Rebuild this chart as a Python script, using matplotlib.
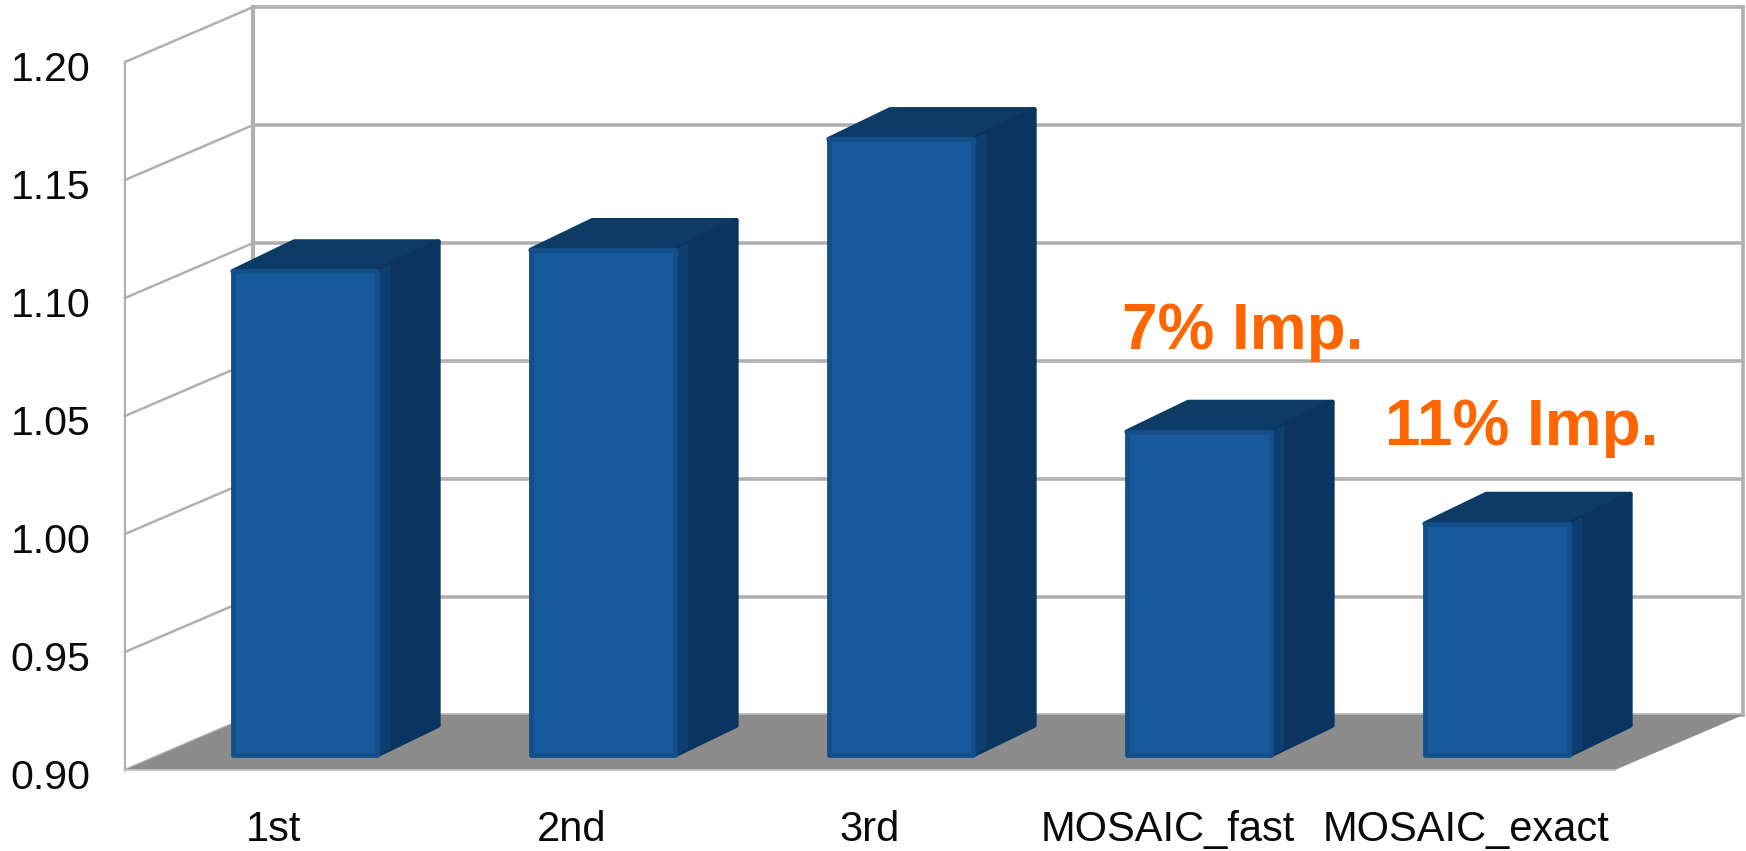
import numpy as np
import matplotlib
matplotlib.use("Agg")
import matplotlib.pyplot as plt
from matplotlib.transforms import ScaledTranslation

plt.rcParams['font.family'] = ['Liberation Sans', 'DejaVu Sans']

categories = ['1st', '2nd', '3rd', 'MOSAIC_fast', 'MOSAIC_exact']
values = [1.105, 1.114, 1.161, 1.037, 0.998]
yticks = [0.90, 0.95, 1.00, 1.05, 1.10, 1.15, 1.20]
notes = ['7% Imp.', '11% Imp.']
note_x = [3.25, 4.187]
note_levels = [1.0785, 1.0377]

GRID = '#b0b0b0'
FLOOR = '#8c8c8c'
FRONT = '#175a9c'
FRONT_EDGE = '#134f8b'
BEVEL = '#0e3f70'
SIDE = '#0b3560'
TOP = '#0e3a66'
ORANGE = '#ff6600'

# how far the back wall sits from the front plane, in data units
DX = 0.43
DY = 0.0233
XMIN, XMAX = -0.5, 4.5
YMIN, YMAX = yticks[0], yticks[-1]
BAR_W = 0.483

fig = plt.figure(figsize=(17.46, 8.51), dpi=100)
ax = fig.add_axes([125 / 1746, 81 / 851, 1490 / 1746, 708 / 851])
ax.set_xlim(XMIN, XMAX)
ax.set_ylim(YMIN, YMAX)
for s in ax.spines.values():
    s.set_visible(False)

# walls and grid
for v in yticks:
    ax.plot([XMIN, XMIN + DX], [v, v + DY], color=GRID, lw=1.8, clip_on=False, zorder=1)
    ax.plot([XMIN + DX, XMAX + DX], [v + DY, v + DY], color=GRID, lw=2.6, clip_on=False, zorder=1)
ax.plot([XMIN, XMIN], [YMIN, YMAX], color=GRID, lw=1.6, clip_on=False, zorder=1)
ax.plot([XMIN + DX, XMIN + DX], [YMIN + DY, YMAX + DY], color=GRID, lw=3, clip_on=False, zorder=1)
ax.plot([XMAX + DX, XMAX + DX], [YMIN + DY, YMAX + DY], color=GRID, lw=2.6, clip_on=False, zorder=1)

# floor
ax.fill([XMIN, XMAX, XMAX + DX, XMIN + DX], [YMIN, YMIN, YMIN + DY, YMIN + DY],
        color=FLOOR, lw=0, clip_on=False, zorder=2)
ax.plot([XMIN, XMAX], [YMIN, YMIN], color='#c4c4c4', lw=1.2, clip_on=False, zorder=2)

# bars, front face a quarter of the way in and half the depth deep
x = np.arange(len(categories))
vals = np.array(values)
centers = x + 0.24 * DX
x0 = centers - BAR_W / 2
x1 = x0 + BAR_W
base = YMIN + 0.27 * DY
tops = vals + 0.27 * DY
bar_dx = 0.48 * DX
bar_dy = 0.54 * DY

for i in range(len(categories)):
    ax.fill([x0[i], x1[i], x1[i] + bar_dx, x0[i] + bar_dx],
            [tops[i], tops[i], tops[i] + bar_dy, tops[i] + bar_dy],
            facecolor=TOP, edgecolor=TOP, lw=3.5, joinstyle='round', clip_on=False, zorder=3)
    ax.fill([x1[i], x1[i] + bar_dx, x1[i] + bar_dx, x1[i]],
            [base, base + bar_dy, tops[i] + bar_dy, tops[i]],
            facecolor=SIDE, edgecolor=SIDE, lw=3.5, joinstyle='round', clip_on=False, zorder=3)
    ax.fill([x1[i], x1[i] + 0.22 * bar_dx, x1[i] + 0.22 * bar_dx, x1[i]],
            [base, base + 0.22 * bar_dy, tops[i] + 0.22 * bar_dy, tops[i]],
            facecolor=BEVEL, lw=0, clip_on=False, zorder=3)

ax.bar(centers, vals - YMIN, width=BAR_W, bottom=base, color=FRONT,
       edgecolor=FRONT_EDGE, linewidth=3.5, joinstyle='round', clip_on=False, zorder=4)

ax.set_xticks(x)
ax.set_xticklabels(categories, fontsize=30, color='#0a0a0a')
ax.set_yticks(yticks)
ax.set_yticklabels([f"{v:.2f}" for v in yticks], fontsize=29.5, color='#0a0a0a')
ax.tick_params(axis='x', length=0, pad=28.5)
ax.tick_params(axis='y', length=0, pad=25)

# y labels sit a little below their grid lines
drop = ScaledTranslation(0, -4 / 100, fig.dpi_scale_trans)
for lab in ax.get_yticklabels():
    lab.set_transform(lab.get_transform() + drop)

for label, nx, level in zip(notes, note_x, note_levels):
    ax.text(nx, level, label, color=ORANGE, fontsize=46, fontweight='bold',
            ha='center', va='baseline', zorder=5)

fig.savefig('out.png', dpi=100)
